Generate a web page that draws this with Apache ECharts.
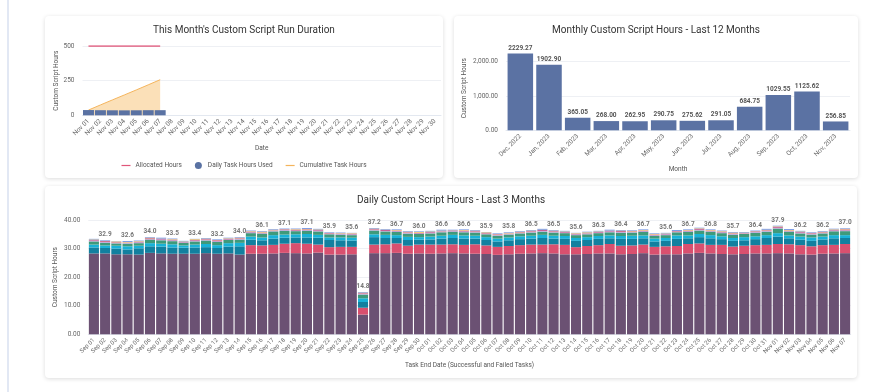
<!DOCTYPE html>
<html>
<head>
<meta charset="utf-8">
<script src="https://cdn.jsdelivr.net/npm/echarts@6/dist/echarts.min.js"></script>
<style>
  html, body { margin:0; padding:0; width:871px; height:392px; background:#ffffff; overflow:hidden; font-family: Roboto, sans-serif; }
  .vline { position:absolute; left:7px; top:0; width:2px; height:392px; background:#e2e8f4; }
  .card { position:absolute; background:#fff; border-radius:4px; box-shadow:0 1px 4px rgba(0,0,0,0.14); }
</style>
</head>
<body>
<div class="vline"></div>
<div class="card" id="c1" style="left:45px;top:16px;width:398px;height:162px;"></div>
<div class="card" id="c2" style="left:454px;top:16px;width:404px;height:162px;"></div>
<div class="card" id="c3" style="left:45px;top:186px;width:812px;height:192px;"></div>
<script>
// ---------- Chart 1: This Month's Custom Script Run Duration ----------
const novDays = ['Nov 01','Nov 02','Nov 03','Nov 04','Nov 05','Nov 06','Nov 07','Nov 08','Nov 09','Nov 10',
  'Nov 11','Nov 12','Nov 13','Nov 14','Nov 15','Nov 16','Nov 17','Nov 18','Nov 19','Nov 20',
  'Nov 21','Nov 22','Nov 23','Nov 24','Nov 25','Nov 26','Nov 27','Nov 28','Nov 29','Nov 30'];
const allocatedHours = [500, 500, 500, 500, 500, 500, 500];
const dailyTaskHours = [37.9, 36.8, 36.2, 35.8, 36.2, 36.95, 37.0];
const cumulativeTaskHours = [37.9, 74.7, 110.9, 146.7, 182.9, 219.85, 256.85];
const chart1YTicks = { min: 0, max: 500, interval: 250 };

// ---------- Chart 2: Monthly Custom Script Hours ----------
const months = ['Dec, 2022','Jan, 2023','Feb, 2023','Mar, 2023','Apr, 2023','May, 2023',
  'Jun, 2023','Jul, 2023','Aug, 2023','Sep, 2023','Oct, 2023','Nov, 2023'];
const monthlyHours = [2229.27, 1902.90, 365.05, 268.00, 262.95, 290.75, 275.62, 291.05, 684.75, 1029.55, 1125.62, 256.85];
const chart2YTicks = { min: 0, max: 2450, interval: 1000 };

// ---------- Chart 3: Daily Custom Script Hours - Last 3 Months ----------
const days3m = ['Sep 01','Sep 02','Sep 03','Sep 04','Sep 05','Sep 06','Sep 07','Sep 08','Sep 09','Sep 10',
  'Sep 11','Sep 12','Sep 13','Sep 14','Sep 15','Sep 16','Sep 17','Sep 18','Sep 19','Sep 20',
  'Sep 21','Sep 22','Sep 23','Sep 24','Sep 25','Sep 26','Sep 27','Sep 28','Sep 29','Sep 30',
  'Oct 01','Oct 02','Oct 03','Oct 04','Oct 05','Oct 06','Oct 07','Oct 08','Oct 09','Oct 10',
  'Oct 11','Oct 12','Oct 13','Oct 14','Oct 15','Oct 16','Oct 17','Oct 18','Oct 19','Oct 20',
  'Oct 21','Oct 22','Oct 23','Oct 24','Oct 25','Oct 26','Oct 27','Oct 28','Oct 29','Oct 30','Oct 31',
  'Nov 01','Nov 02','Nov 03','Nov 04','Nov 05','Nov 06','Nov 07'];
const dailyTotals = [
  33.4,32.9,32.7,32.6,32.8,34.0,33.8,33.5,32.9,33.4,33.7,33.2,33.9,34.0,
  36.3,36.1,36.9,37.1,37.0,37.1,36.9,35.9,35.7,35.6,14.8,37.2,36.9,36.7,36.1,36.0,
  36.2,36.6,36.8,36.6,36.5,35.9,35.4,35.8,36.2,36.5,36.8,36.5,36.3,35.6,35.9,36.3,36.6,36.4,36.5,36.7,
  35.3,35.6,36.6,36.7,37.2,36.8,36.3,35.7,36.0,36.4,36.8,
  37.9,36.8,36.2,35.8,36.2,36.95,37.0];
const segPurple = [
  28.3,28.3,28.0,28.0,27.9,28.5,28.3,28.2,28.2,28.2,28.4,28.2,28.3,27.9,
  28.2,28.2,28.3,28.5,28.4,28.3,28.6,27.9,27.9,28.0,6.9,28.4,28.4,28.5,28.2,28.3,
  28.2,28.3,28.4,28.3,28.2,28.1,27.8,28.0,28.2,28.3,28.4,28.3,28.0,28.0,28.1,28.3,28.3,28.0,28.1,28.4,
  27.9,28.0,28.0,28.3,28.5,28.3,28.1,28.0,28.1,28.3,28.3,
  28.4,28.3,28.0,27.9,28.2,28.3,28.4];
const segPink = [
  0,0,0,0,0,0,0,0,0,0,0,0,0,0,
  3.0,2.9,3.0,3.2,3.5,3.4,2.8,2.6,2.7,2.6,2.4,3.0,3.1,3.3,2.8,3.1,
  3.2,3.1,3.1,3.0,3.3,3.0,2.8,2.9,3.0,3.1,3.0,3.2,3.3,2.5,2.8,2.9,3.3,3.0,3.0,3.0,
  2.7,2.8,2.9,3.3,3.3,3.0,3.2,2.7,2.9,2.9,3.0,
  3.2,3.2,3.2,2.9,3.0,3.0,3.2];
const segTeal = [
  2.1,1.9,2.0,1.7,2.2,2.3,2.4,2.2,2.1,2.2,2.1,2.0,2.4,2.9,
  1.9,1.8,2.2,2.1,2.0,2.2,2.4,2.5,2.3,2.2,2.0,2.6,2.2,1.9,2.0,1.7,
  1.8,2.1,2.2,2.2,2.0,1.9,1.9,2.0,2.1,2.1,2.3,2.0,2.1,2.2,2.1,2.2,2.0,2.4,2.3,2.2,
  1.9,1.9,2.5,2.0,2.2,2.3,2.0,2.0,1.9,2.1,2.4,
  2.6,2.1,1.9,1.9,2.0,2.3,2.1];
const segCyan = [
  1.0,0.9,1.0,1.1,0.9,1.1,1.0,1.1,0.8,1.0,1.1,1.0,1.2,1.2,
  1.1,1.0,1.2,1.1,1.1,1.2,1.0,0.9,1.0,1.0,1.3,1.0,1.1,1.0,1.1,0.9,
  1.0,1.0,1.1,1.1,1.0,1.0,1.0,1.0,1.0,1.0,1.1,1.0,1.0,1.0,1.0,1.0,1.0,1.0,1.1,1.0,
  1.0,1.0,1.2,1.0,1.1,1.1,1.0,1.0,1.1,1.0,1.0,
  1.2,1.0,1.1,1.2,1.0,1.1,1.0];
const segGreen = [
  1.1,0.9,0.8,0.9,0.9,1.2,1.2,1.1,0.9,1.1,1.2,1.1,1.1,1.1,
  1.2,1.3,1.3,1.3,1.1,1.1,1.2,1.1,0.9,0.9,1.3,1.3,1.2,1.1,1.1,1.1,
  1.1,1.2,1.1,1.1,1.1,1.0,1.0,1.0,1.0,1.1,1.1,1.1,1.0,1.0,1.0,1.0,1.1,1.1,1.1,1.2,
  0.9,1.0,1.1,1.2,1.2,1.2,1.1,1.1,1.1,1.2,1.2,
  1.6,1.3,1.1,1.0,1.1,1.35,1.4];
const segLavender = [
  0.3,0.3,0.2,0.3,0.3,0.2,0.3,0.3,0.2,0.3,0.3,0.3,0.2,0.3,
  0.3,0.2,0.3,0.3,0.2,0.3,0.3,0.2,0.3,0.3,0.3,0.3,0.2,0.3,0.3,0.2,
  0.3,0.3,0.2,0.3,0.3,0.2,0.3,0.3,0.2,0.3,0.3,0.3,0.2,0.3,0.3,0.2,0.3,0.3,0.2,0.3,
  0.3,0.3,0.2,0.3,0.3,0.2,0.3,0.3,0.2,0.3,0.3,
  0.3,0.2,0.3,0.3,0.2,0.3,0.3];
const segMagenta = [
  0.2,0.3,0.2,0.1,0.2,0.3,0.2,0.2,0.1,0.2,0.2,0.3,0.2,0.2,
  0.2,0.2,0.1,0.2,0.3,0.2,0.2,0.2,0.1,0.2,0.2,0.2,0.3,0.2,0.2,0.2,
  0.2,0.1,0.2,0.3,0.2,0.2,0.2,0.1,0.2,0.2,0.3,0.2,0.2,0.2,0.1,0.2,0.2,0.3,0.2,0.2,
  0.2,0.1,0.2,0.2,0.3,0.2,0.2,0.2,0.1,0.2,0.2,
  0.3,0.2,0.2,0.2,0.2,0.2,0.3];
const segOrange = [
  0.2,0.1,0.3,0.2,0.2,0.2,0.1,0.2,0.2,0.3,0.2,0.1,0.2,0.2,
  0.2,0.3,0.2,0.1,0.2,0.2,0.2,0.1,0.2,0.2,0.2,0.2,0.1,0.2,0.2,0.3,
  0.2,0.2,0.1,0.2,0.2,0.3,0.1,0.2,0.2,0.2,0.1,0.2,0.2,0.2,0.3,0.2,0.1,0.2,0.2,0.2,
  0.2,0.2,0.1,0.2,0.2,0.2,0.2,0.3,0.2,0.1,0.2,
  0.2,0.2,0.2,0.1,0.2,0.2,0.2];
const segBlue = [
  0.2,0.2,0.1,0.3,0.2,0.2,0.3,0.2,0.2,0.1,0.2,0.2,0.2,0.2,
  0.2,0.2,0.2,0.2,0.2,0.3,0.2,0.2,0.2,0.1,0.2,0.2,0.2,0.2,0.2,0.2,
  0.2,0.3,0.2,0.2,0.2,0.1,0.2,0.2,0.2,0.2,0.3,0.2,0.2,0.1,0.2,0.2,0.3,0.2,0.2,0.2,
  0.2,0.2,0.3,0.2,0.2,0.2,0.2,0.2,0.2,0.2,0.3,
  0.2,0.3,0.2,0.2,0.2,0.2,0.2];
const chart3YTicks = { min: 0, max: 40, interval: 10 };

const FONT = 'Roboto, "Noto Sans", sans-serif';
const axisLabelColor = '#666';
const titleStyle = { fontSize: 10, fontWeight: 'normal', color: '#333', fontFamily: FONT };
const LINE_ICON = 'path://M0,0 L12,0 L12,1.6 L0,1.6 Z';

// ----- Chart 1 -----
const ch1 = echarts.init(document.getElementById('c1'));
ch1.setOption({
  animation: false,
  title: { text: "This Month's Custom Script Run Duration", left: 'center', top: 4, textStyle: titleStyle },
  legend: {
    top: 141, left: 'center', itemWidth: 9, itemHeight: 7, itemGap: 13,
    textStyle: { fontSize: 6.5, color: '#555', fontFamily: FONT },
    data: [{ name: 'Allocated Hours', icon: LINE_ICON }, { name: 'Daily Task Hours Used', icon: 'circle' }, { name: 'Cumulative Task Hours', icon: LINE_ICON }]
  },
  grid: { left: 37.5, right: 2, top: 30, bottom: 62.7, outerBoundsMode: 'none', containLabel: false },
  xAxis: {
    type: 'category', data: novDays, name: 'Date', nameLocation: 'middle', nameGap: 30,
    nameTextStyle: { fontSize: 6.5, color: '#555', fontFamily: FONT },
    axisLine: { lineStyle: { color: '#e3e8f0' } }, axisTick: { show: false },
    axisLabel: { interval: 0, rotate: 45, fontSize: 6.5, color: axisLabelColor, margin: 5, fontFamily: FONT }
  },
  yAxis: {
    type: 'value', min: chart1YTicks.min, max: chart1YTicks.max, interval: chart1YTicks.interval,
    name: 'Custom Script Hours', nameLocation: 'middle', nameGap: 23, nameMoveOverlap: false,
    nameTextStyle: { fontSize: 6.5, color: '#555', fontFamily: FONT },
    axisLabel: { fontSize: 6.5, color: axisLabelColor, margin: 8, fontFamily: FONT },
    splitLine: { lineStyle: { color: '#eef0f4' } }
  },
  series: [
    { name: 'Allocated Hours', type: 'line', data: allocatedHours, symbol: 'none', z: 3,
      lineStyle: { color: '#e0577a', width: 1.5 }, itemStyle: { color: '#e0577a' } },
    { name: 'Daily Task Hours Used', type: 'bar', data: dailyTaskHours, barCategoryGap: '8%', z: 4,
      itemStyle: { color: '#5a72a3' } },
    { name: 'Cumulative Task Hours', type: 'line', data: cumulativeTaskHours, symbol: 'none', z: 2,
      lineStyle: { color: '#f4b45c', width: 1 }, itemStyle: { color: '#f4b45c' },
      areaStyle: { color: '#fbe0b8', opacity: 1 } }
  ]
});

// ----- Chart 2 -----
const ch2 = echarts.init(document.getElementById('c2'));
ch2.setOption({
  animation: false,
  title: { text: 'Monthly Custom Script Hours - Last 12 Months', left: 'center', top: 4, textStyle: titleStyle },
  grid: { left: 52, right: 8, top: 30, bottom: 47.7, outerBoundsMode: 'none', containLabel: false },
  xAxis: {
    type: 'category', data: months, name: 'Month', nameLocation: 'middle', nameGap: 34,
    nameTextStyle: { fontSize: 6.5, color: '#555', fontFamily: FONT },
    axisLine: { lineStyle: { color: '#e3e8f0' } }, axisTick: { show: false },
    axisLabel: { interval: 0, rotate: 45, fontSize: 6.5, color: axisLabelColor, margin: 5, fontFamily: FONT }
  },
  yAxis: {
    type: 'value', min: chart2YTicks.min, max: chart2YTicks.max, interval: chart2YTicks.interval,
    name: 'Custom Script Hours', nameLocation: 'middle', nameGap: 38, nameMoveOverlap: false,
    nameTextStyle: { fontSize: 6.5, color: '#555', fontFamily: FONT },
    axisLabel: { fontSize: 6.5, color: axisLabelColor, margin: 8, fontFamily: FONT, showMaxLabel: false,
      formatter: v => v.toLocaleString('en-US', { minimumFractionDigits: 2, maximumFractionDigits: 2 }) },
    splitLine: { showMaxLine: false, lineStyle: { color: '#eef0f4' } }
  },
  series: [
    { name: 'Monthly Hours', type: 'bar', data: monthlyHours, barCategoryGap: '11%',
      itemStyle: { color: '#5b72a3' },
      label: { show: true, position: 'top', distance: 2, fontSize: 6.5, fontWeight: 'bold', color: '#555', fontFamily: FONT,
        formatter: p => p.value.toFixed(2) } }
  ]
});

// ----- Chart 3 -----
const ch3 = echarts.init(document.getElementById('c3'));
const segDefs = [
  ['A', segPurple, '#6b5173'],
  ['B', segPink, '#d9506f'],
  ['C', segTeal, '#12809f'],
  ['D', segCyan, '#18b2d8'],
  ['E', segGreen, '#3f9a7b'],
  ['F', segLavender, '#b9a3d6'],
  ['G', segMagenta, '#c24a86'],
  ['H', segOrange, '#f4c46b'],
  ['I', segBlue, '#6a8fe3']
];
const showTotal = i => (i % 2 === 1) || i === 24;
const series3 = segDefs.map(([n, arr, col], k) => {
  const s = { name: n, type: 'bar', stack: 'total', data: arr, barCategoryGap: '10%', itemStyle: { color: col } };
  if (k === segDefs.length - 1) {
    s.label = { show: true, position: 'top', distance: 2, fontSize: 6.5, fontWeight: 'bold', color: '#777', fontFamily: FONT,
      formatter: p => showTotal(p.dataIndex) ? dailyTotals[p.dataIndex].toFixed(1) : '' };
  }
  return s;
});
ch3.setOption({
  animation: false,
  title: { text: 'Daily Custom Script Hours - Last 3 Months', left: 'center', top: 4, textStyle: titleStyle },
  grid: { left: 43.3, right: 6.3, top: 34, bottom: 43.7, outerBoundsMode: 'none', containLabel: false },
  xAxis: {
    type: 'category', data: days3m, name: 'Task End Date (Successful and Failed Tasks)', nameLocation: 'middle', nameGap: 28,
    nameTextStyle: { fontSize: 6.5, color: '#555', fontFamily: FONT },
    axisLine: { lineStyle: { color: '#e3e8f0' } }, axisTick: { show: false },
    axisLabel: { interval: 0, rotate: 45, fontSize: 6, color: axisLabelColor, margin: 5, fontFamily: FONT }
  },
  yAxis: {
    type: 'value', min: chart3YTicks.min, max: chart3YTicks.max, interval: chart3YTicks.interval,
    name: 'Custom Script Hours', nameLocation: 'middle', nameGap: 29, nameMoveOverlap: false,
    nameTextStyle: { fontSize: 6.5, color: '#555', fontFamily: FONT },
    axisLabel: { fontSize: 6.5, color: axisLabelColor, margin: 8, fontFamily: FONT, formatter: v => v.toFixed(2) },
    splitLine: { lineStyle: { color: '#eef0f4' } }
  },
  series: series3
});
</script>
</body>
</html>
